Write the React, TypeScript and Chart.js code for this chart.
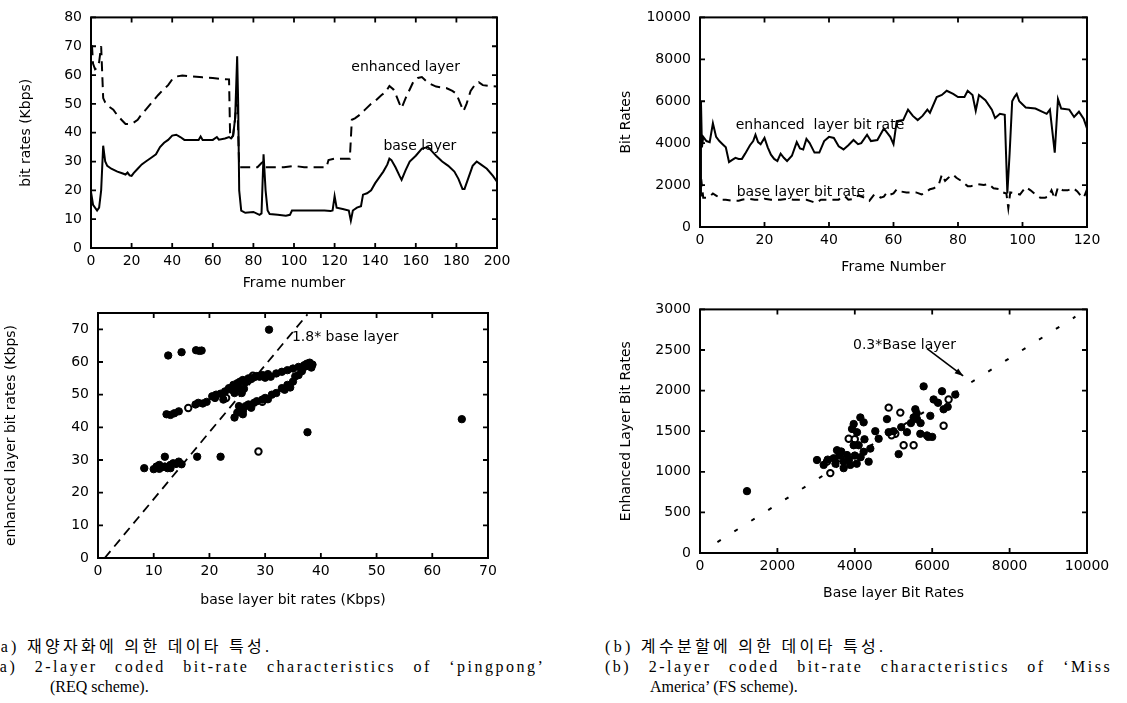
import React, { useEffect, useRef } from "react";
import { Chart, registerables } from "chart.js";

Chart.register(...registerables);

const FONT = '"DejaVu Sans", "Liberation Sans", Arial, sans-serif';

// ---------- (a) top: pingpong bit rates vs frame ----------
const tlBaseFrames = [0, 1, 3, 4, 5, 6, 7, 8, 10, 13, 15, 17, 18, 19, 20, 21, 23, 25, 27, 30, 32, 34, 36, 38, 40, 42, 44, 46, 50, 53, 54, 55, 60, 62, 63, 66, 68, 69, 70, 71, 72, 72.5, 73, 74, 76, 80, 83, 84, 85, 86, 87, 88, 92, 96, 98, 99, 105, 110, 115, 118, 119, 120, 121, 124, 127, 128, 129, 131, 133, 134, 136, 138, 140, 142, 144, 146, 147, 148, 150, 152, 153, 155, 157, 160, 163, 166, 168, 170, 173, 176, 179, 181, 183, 184, 186, 188, 190, 192, 195, 198, 200];
const tlBaseRates = [19.5, 15, 13, 14, 20, 35.5, 30, 28.5, 27.5, 26.5, 26, 25.5, 26.2, 25.2, 25, 26, 27.5, 29, 30, 31.5, 32.5, 35, 36.5, 37.5, 39, 39.3, 38.5, 37.5, 37.5, 37.5, 38.7, 37.5, 37.5, 38.5, 37.6, 38, 38.5, 38, 39, 45, 66.5, 50, 20, 13, 12.2, 12.5, 11.5, 12, 32.5, 20, 13, 11.8, 11.5, 11.2, 11.5, 13, 13, 13, 13, 12.8, 13, 18, 14, 13.5, 13, 9.5, 13, 14, 14.5, 18.5, 19, 20, 22.5, 24.5, 26.5, 29, 31, 30.5, 28, 25, 23.6, 27, 30, 32, 34.5, 35, 33.5, 32, 30, 28.5, 26.5, 24, 20.5, 20.5, 24.5, 28.5, 30, 29, 27.5, 25, 23];
const tlEnhFrames = [0, 0.5, 1, 2, 3, 4, 5, 6, 7, 9, 11, 13, 15, 17, 19, 21, 23, 25, 27, 30, 33, 35, 38, 40, 42, 45, 50, 55, 60, 65, 68, 68.5, 69, 70, 71, 72, 72.5, 73, 78, 82, 84, 85, 86, 90, 95, 100, 105, 110, 116, 117, 120, 125, 127.5, 128.5, 130, 132, 135, 138, 140, 143, 145, 147, 149, 150, 152, 153, 155, 157, 159, 161, 163, 165, 167, 170, 175, 178, 180, 182, 183.5, 185, 187, 189, 191, 193, 196, 200];
const tlEnhRates = [70, 70, 64, 62, 62.5, 64.5, 70, 52, 50.5, 49, 48, 46, 44.5, 43, 43, 43.5, 44.5, 46.5, 48, 50.5, 53, 54.5, 56.5, 58.5, 59.5, 59.8, 59.5, 59.2, 59, 58.6, 58.5, 40, 38, 39, 45, 55, 40, 28, 28, 28, 29.5, 30, 28, 28, 28, 28.5, 28, 28, 28, 30.5, 31, 31, 31, 44.5, 45, 46, 48, 50, 51, 53, 54, 56.2, 55, 53.5, 50, 48.5, 52, 55, 58, 59, 59.3, 58, 57, 56, 55.5, 54.5, 53.5, 50, 47.5, 50, 54.5, 56.5, 57.5, 56.5, 56.2, 56];

// ---------- (b) top: Miss America bit rates vs frame ----------
const trEnhFrames = [0, 0.3, 0.6, 1, 2, 3, 4, 5, 6, 7, 8, 9, 10, 11, 12, 13, 14, 15.5, 16.5, 17.2, 18, 18.8, 20, 21, 22, 23, 24, 25, 26, 27, 28.5, 30, 31, 32, 33, 34, 35.5, 37, 38.5, 40, 41.5, 43, 44.5, 46, 47.6, 49, 50, 51.8, 53, 55, 57, 58, 59, 60, 61, 63, 64.5, 66, 67.5, 69, 70.5, 71.3, 73.4, 75, 76.5, 78.5, 80, 82, 83, 84.5, 85.5, 86.5, 88.5, 90.5, 91.5, 93, 94.5, 95.3, 96, 96.8, 97.5, 98.2, 99, 101, 104, 107.5, 108.5, 110, 111, 112, 114.5, 116, 117.5, 119, 120];
const trEnhRates = [1500, 6000, 3800, 4300, 4100, 4050, 4950, 4300, 4100, 3950, 3800, 3100, 3200, 3300, 3250, 3250, 3500, 3900, 4100, 4400, 4050, 3950, 4250, 3800, 3450, 3250, 3150, 3500, 3300, 3150, 3400, 4050, 3750, 3700, 4200, 4000, 3550, 3550, 4100, 4300, 4250, 3850, 3700, 3900, 4150, 3950, 4000, 4400, 4100, 4150, 4700, 4500, 4300, 3950, 5050, 5100, 5600, 5300, 5100, 5300, 5600, 5450, 6200, 6300, 6500, 6350, 6200, 6200, 6500, 6300, 5550, 6300, 6050, 5600, 5200, 5400, 5350, 1600, 3500, 6000, 6200, 6350, 6000, 5700, 5650, 5400, 5600, 3550, 6100, 5650, 5600, 5250, 5500, 5150, 4700];
const trBaseFrames = [0, 0.5, 1, 2, 3, 4, 5, 6, 7, 8, 10, 12, 13, 15, 17, 19, 20, 22, 25, 27, 29, 31, 33, 35, 36, 37.5, 40, 43, 44, 45, 46, 48, 49, 50, 51, 52.5, 54, 55, 56, 57, 58, 59, 60, 61, 62, 64, 67, 68.7, 70, 71.3, 72.5, 74, 75, 76, 77, 78.5, 79.5, 81, 83, 84, 86, 88, 89.5, 91, 93, 94, 95, 95.6, 96.2, 98, 99.2, 101, 102.5, 104, 105.5, 107, 108, 109, 110, 111, 112.5, 114, 115.8, 117, 118, 119, 120];
const trBaseRates = [1900, 2100, 1400, 1400, 1450, 1600, 1500, 1400, 1300, 1300, 1250, 1250, 1300, 1350, 1300, 1300, 1350, 1300, 1300, 1350, 1300, 1300, 1300, 1200, 1150, 1300, 1300, 1300, 1450, 1450, 1300, 1350, 1500, 1450, 1400, 1250, 1550, 1500, 1400, 1450, 1650, 1550, 1600, 1800, 1700, 1650, 1650, 1550, 1650, 1800, 1850, 2000, 2500, 2200, 2350, 2500, 2350, 2200, 1950, 1950, 2050, 2000, 2050, 1850, 1800, 1650, 1600, 900, 1650, 1600, 1550, 1900, 1750, 1550, 1400, 1400, 1450, 1750, 1350, 1900, 1750, 1750, 1850, 1700, 1500, 1400, 1800];

// ---------- (a) bottom: enhanced vs base scatter ----------
const blFilledBase = [8.3, 10, 10.5, 11, 11.5, 12, 12, 12.5, 13, 13.5, 14, 14.5, 15, 13, 11, 17.8, 22, 37.6, 65.3, 30.7, 12.6, 15, 17.6, 18.2, 18.6, 12.3, 13, 13.7, 14.5, 17.5, 18, 18.8, 19.5, 20.5, 21.2, 22, 22.8, 23.5, 24, 24.3, 25, 25.5, 26, 26.5, 27, 27.5, 28, 28.5, 29, 29.5, 30, 30.5, 31, 32, 33, 34, 35, 36, 37, 37.5, 38, 38.5, 38.3, 37.2, 22.5, 21, 24.5, 25.2, 26.2, 25.8, 24.8, 24.5, 25, 25.5, 26, 26.5, 27, 27.5, 28, 28.5, 29.5, 30, 30.5, 31.2, 32, 33, 34, 35, 35.4, 36, 36.6, 34.5, 33.5, 26, 25.3];
const blFilledEnh = [27.5, 27.2, 28, 27.3, 27.8, 31, 28, 27.5, 28.5, 29, 28.8, 29.5, 28.7, 27.5, 28.5, 31, 31, 38.5, 42.5, 69.9, 62, 63, 63.6, 63.4, 63.5, 44, 43.8, 44.3, 44.9, 47, 47.5, 47.3, 47.8, 49.5, 50, 50.3, 51, 52, 51.5, 53, 53.5, 54, 54.5, 53.8, 55, 54.8, 55.3, 55.7, 55.5, 56, 55.2, 56.3, 55.5, 56.5, 57, 57.5, 58, 58.5, 59, 59.5, 59.8, 59.2, 58.3, 58.6, 48.5, 49, 50.5, 52.2, 51.8, 50.5, 52.8, 43, 44.5, 45.5, 45, 46.5, 47, 46, 47.5, 48, 48.5, 49, 48.6, 50, 50.5, 52, 53, 54, 55.6, 56, 57.2, 52.2, 51.5, 44, 46.5];
const blHollowBase = [16.2, 28.8, 27.8, 29.5, 23];
const blHollowEnh = [45.9, 32.6, 55.8, 47.8, 49];
const blRefBase = [1.2, 37.6];
const blRefEnh = [0, 74.6];

// ---------- (b) bottom: enhanced vs base scatter ----------
const brFilledBase = [1214, 3023, 3196, 3453, 3540, 3712, 3798, 3928, 3971, 4057, 4143, 4229, 4100, 4229, 4401, 4358, 3884, 3971, 3712, 3600, 3500, 3850, 4000, 4150, 3300, 3650, 4050, 4250, 4616, 4530, 4831, 4875, 5133, 5348, 5564, 5607, 5693, 5779, 5865, 5951, 6037, 6253, 6295, 6597, 5520, 5000, 5200, 5450, 5600, 5700, 6150, 6400, 5900, 6000];
const brFilledEnh = [762, 1145, 1085, 1166, 1266, 1125, 1206, 1528, 1588, 1487, 1669, 1609, 1327, 1246, 1286, 1125, 1085, 1327, 1045, 1200, 1100, 1150, 1200, 1180, 1150, 1250, 1100, 1400, 1407, 1500, 1649, 1488, 1218, 1488, 1770, 1649, 1468, 2052, 1448, 1689, 1891, 1992, 1770, 1951, 1669, 1500, 1550, 1600, 1720, 1600, 1850, 1800, 1430, 1430];
const brHollowBase = [3367, 3842, 3626, 3282, 4875, 5047, 5262, 5176, 5520, 6424, 6295, 4000, 4950];
const brHollowEnh = [984, 1407, 1166, 1125, 1790, 1468, 1327, 1729, 1327, 1891, 1568, 1400, 1450];
const brRefBase = [450, 9700];
const brRefEnh = [135, 2910];

const pts = (xs: number[], ys: number[]) => xs.map((x, i) => ({ x, y: ys[i] }));

// ---------- plugins ----------
const framePlugin = {
  id: "frame",
  afterDraw(chart: any) {
    const { ctx, chartArea: a, scales } = chart;
    ctx.save();
    ctx.strokeStyle = "#000";
    ctx.lineWidth = 2;
    ctx.strokeRect(a.left, a.top, a.right - a.left, a.bottom - a.top);
    ctx.lineWidth = 1.8;
    const L = 5;
    scales.x.ticks.forEach((t: any) => {
      const p = scales.x.getPixelForValue(t.value);
      ctx.beginPath();
      ctx.moveTo(p, a.bottom);
      ctx.lineTo(p, a.bottom - L);
      ctx.moveTo(p, a.top);
      ctx.lineTo(p, a.top + L);
      ctx.stroke();
    });
    scales.y.ticks.forEach((t: any) => {
      const p = scales.y.getPixelForValue(t.value);
      ctx.beginPath();
      ctx.moveTo(a.left, p);
      ctx.lineTo(a.left + L, p);
      ctx.moveTo(a.right, p);
      ctx.lineTo(a.right - L, p);
      ctx.stroke();
    });
    ctx.restore();
  },
};

const notesPlugin = {
  id: "notes",
  afterDatasetsDraw(chart: any, _args: any, opts: any) {
    const { ctx, scales } = chart;
    const x = scales.x;
    const y = scales.y;
    ctx.save();
    ctx.font = `14px ${FONT}`;
    ctx.fillStyle = "#000";
    ctx.strokeStyle = "#000";
    ctx.textBaseline = "middle";
    (opts.items || []).forEach((it: any) => {
      ctx.textAlign = it.align || "center";
      ctx.fillText(it.text, x.getPixelForValue(it.x), y.getPixelForValue(it.y));
    });
    (opts.arrows || []).forEach((ar: any) => {
      const x1 = x.getPixelForValue(ar.x1);
      const y1 = y.getPixelForValue(ar.y1);
      const x2 = x.getPixelForValue(ar.x2);
      const y2 = y.getPixelForValue(ar.y2);
      ctx.lineWidth = 1.6;
      ctx.beginPath();
      ctx.moveTo(x1, y1);
      ctx.lineTo(x2, y2);
      ctx.stroke();
      const ang = Math.atan2(y2 - y1, x2 - x1);
      const h = 9;
      ctx.beginPath();
      ctx.moveTo(x2, y2);
      ctx.lineTo(x2 - h * Math.cos(ang - 0.35), y2 - h * Math.sin(ang - 0.35));
      ctx.lineTo(x2 - h * Math.cos(ang + 0.35), y2 - h * Math.sin(ang + 0.35));
      ctx.closePath();
      ctx.fill();
    });
    ctx.restore();
  },
};

function xAxis(min: number, max: number, step: number, title: string, height: number, padBottom: number) {
  return {
    type: "linear",
    min,
    max,
    border: { display: false },
    grid: { display: false, drawTicks: false },
    ticks: { stepSize: step, color: "#000", padding: 5, maxRotation: 0, font: { family: FONT, size: 14 }, callback: (v: any) => String(v) },
    title: { display: true, text: title, color: "#000", font: { family: FONT, size: 14 }, padding: { top: 0, bottom: padBottom } },
    afterBuildTicks: (s: any) => {
      s.ticks = s.ticks.filter((t: any) => Math.abs(t.value / step - Math.round(t.value / step)) < 1e-6);
    },
    afterFit: (s: any) => {
      s.height = height;
    },
  };
}

function yAxis(min: number, max: number, step: number, title: string, width: number, padTop: number) {
  return {
    type: "linear",
    min,
    max,
    border: { display: false },
    grid: { display: false, drawTicks: false },
    ticks: { stepSize: step, color: "#000", padding: 9, font: { family: FONT, size: 14 }, callback: (v: any) => String(v) },
    title: { display: true, text: title, color: "#000", font: { family: FONT, size: 14 }, padding: { top: padTop, bottom: 0 } },
    afterBuildTicks: (s: any) => {
      s.ticks = s.ticks.filter((t: any) => Math.abs(t.value / step - Math.round(t.value / step)) < 1e-6);
    },
    afterFit: (s: any) => {
      s.width = width;
    },
  };
}

const basePlugins = (notes: any) => ({
  legend: { display: false },
  tooltip: { enabled: false },
  notes,
});

function makeTL() {
  return {
    type: "line",
    data: {
      datasets: [
        { label: "enhanced layer", data: pts(tlEnhFrames, tlEnhRates), borderColor: "#000", borderWidth: 2, borderDash: [10, 6], pointRadius: 0, tension: 0 },
        { label: "base layer", data: pts(tlBaseFrames, tlBaseRates), borderColor: "#000", borderWidth: 2, pointRadius: 0, tension: 0 },
      ],
    },
    options: {
      responsive: false,
      animation: false,
      layout: { padding: { left: 0, right: 33, top: 12, bottom: 0 } },
      scales: {
        x: xAxis(0, 200, 20, "Frame number", 44, 0),
        y: yAxis(0, 80, 10, "bit rates (Kbps)", 91, 18),
      },
      plugins: basePlugins({
        items: [
          { x: 155, y: 62.7, text: "enhanced layer" },
          { x: 162, y: 35.3, text: "base layer" },
        ],
      }),
    },
    plugins: [framePlugin, notesPlugin],
  };
}

function makeTR() {
  return {
    type: "line",
    data: {
      datasets: [
        { label: "enhanced layer bit rate", data: pts(trEnhFrames, trEnhRates), borderColor: "#000", borderWidth: 2, pointRadius: 0, tension: 0 },
        { label: "base layer bit rate", data: pts(trBaseFrames, trBaseRates), borderColor: "#000", borderWidth: 2, borderDash: [8, 6], pointRadius: 0, tension: 0 },
      ],
    },
    options: {
      responsive: false,
      animation: false,
      layout: { padding: { left: 0, right: 40, top: 6, bottom: 0 } },
      scales: {
        x: xAxis(0, 120, 20, "Frame Number", 53, 4),
        y: yAxis(0, 10000, 2000, "Bit Rates", 140, 58),
      },
      plugins: basePlugins({
        items: [
          { x: 37.2, y: 4842, text: "enhanced  layer bit rate" },
          { x: 31.3, y: 1674, text: "base layer bit rate" },
        ],
      }),
    },
    plugins: [framePlugin, notesPlugin],
  };
}

function makeBL() {
  return {
    type: "scatter",
    data: {
      datasets: [
        { label: "1.8* base layer", data: pts(blRefBase, blRefEnh), showLine: true, borderColor: "#000", borderWidth: 1.8, borderDash: [9, 6], pointRadius: 0 },
        { label: "frames", data: pts(blFilledBase, blFilledEnh), pointRadius: 3.7, backgroundColor: "#000", borderColor: "#000", borderWidth: 1 },
        { label: "frames (open)", data: pts(blHollowBase, blHollowEnh), pointRadius: 3.2, backgroundColor: "#fff", borderColor: "#000", borderWidth: 2 },
      ],
    },
    options: {
      responsive: false,
      animation: false,
      layout: { padding: { left: 0, right: 42, top: 21, bottom: 0 } },
      scales: {
        x: xAxis(0, 70, 10, "base layer bit rates (Kbps)", 52, 1),
        y: yAxis(0, 75, 10, "enhanced layer bit rates (Kbps)", 98, 3),
      },
      plugins: basePlugins({
        items: [{ x: 34.8, y: 67.5, text: "1.8* base layer", align: "left" }],
      }),
    },
    plugins: [framePlugin, notesPlugin],
  };
}

function makeBR() {
  return {
    type: "scatter",
    data: {
      datasets: [
        { label: "0.3*Base layer", data: pts(brRefBase, brRefEnh), showLine: true, borderColor: "#000", borderWidth: 2, borderDash: [4, 16], pointRadius: 0 },
        { label: "frames", data: pts(brFilledBase, brFilledEnh), pointRadius: 3.7, backgroundColor: "#000", borderColor: "#000", borderWidth: 1 },
        { label: "frames (open)", data: pts(brHollowBase, brHollowEnh), pointRadius: 3.2, backgroundColor: "#fff", borderColor: "#000", borderWidth: 2 },
      ],
    },
    options: {
      responsive: false,
      animation: false,
      layout: { padding: { left: 0, right: 40, top: 11, bottom: 0 } },
      scales: {
        x: xAxis(0, 10000, 2000, "Base layer Bit Rates", 57, 8),
        y: yAxis(0, 3000, 500, "Enhanced Layer Bit Rates", 140, 58),
      },
      plugins: basePlugins({
        items: [{ x: 3953, y: 2552, text: "0.3*Base layer", align: "left" }],
        arrows: [{ x1: 5866, y1: 2516, x2: 6800, y2: 2180 }],
      }),
    },
    plugins: [framePlugin, notesPlugin],
  };
}

function ChartBox({ make, left, top, width, height }: any) {
  const ref = useRef<HTMLCanvasElement | null>(null);
  useEffect(() => {
    const chart = new Chart(ref.current as HTMLCanvasElement, make() as any);
    return () => chart.destroy();
  }, []);
  return (
    <canvas
      ref={ref}
      width={width}
      height={height}
      style={{ position: "absolute", left, top, width, height, display: "block" }}
    />
  );
}

const capBase: React.CSSProperties = {
  position: "absolute",
  fontFamily: '"Liberation Serif", "Noto Sans CJK KR", serif',
  fontSize: 16,
  lineHeight: "18px",
  whiteSpace: "pre",
  color: "#000",
};
const capKorean: React.CSSProperties = { ...capBase, letterSpacing: "3.3px" };
const capJustified: React.CSSProperties = { ...capBase, letterSpacing: "2.5px", wordSpacing: "11px" };

export default function App() {
  return (
    <div
      style={{
        position: "fixed",
        left: 0,
        top: 0,
        width: 1127,
        height: 703,
        background: "#fff",
        overflow: "hidden",
      }}
    >
      <ChartBox make={makeTL} left={0} top={0} width={530} height={292} />
      <ChartBox make={makeTR} left={560} top={0} width={567} height={280} />
      <ChartBox make={makeBL} left={0} top={292} width={530} height={318} />
      <ChartBox make={makeBR} left={560} top={292} width={567} height={318} />

      <div style={{ ...capKorean, left: -8, top: 638 }}>(a) 재양자화에 의한 데이타 특성.</div>
      <div style={{ ...capJustified, left: -8, top: 658 }}>(a) 2-layer coded bit-rate characteristics of ‘pingpong’</div>
      <div style={{ ...capBase, left: 50, top: 678 }}>(REQ scheme).</div>

      <div style={{ ...capKorean, left: 605, top: 638 }}>(b) 계수분할에 의한 데이타 특성.</div>
      <div style={{ ...capJustified, left: 605, top: 658 }}>(b) 2-layer coded bit-rate characteristics of ‘Miss</div>
      <div style={{ ...capBase, left: 650, top: 678 }}>America’ (FS scheme).</div>
    </div>
  );
}
